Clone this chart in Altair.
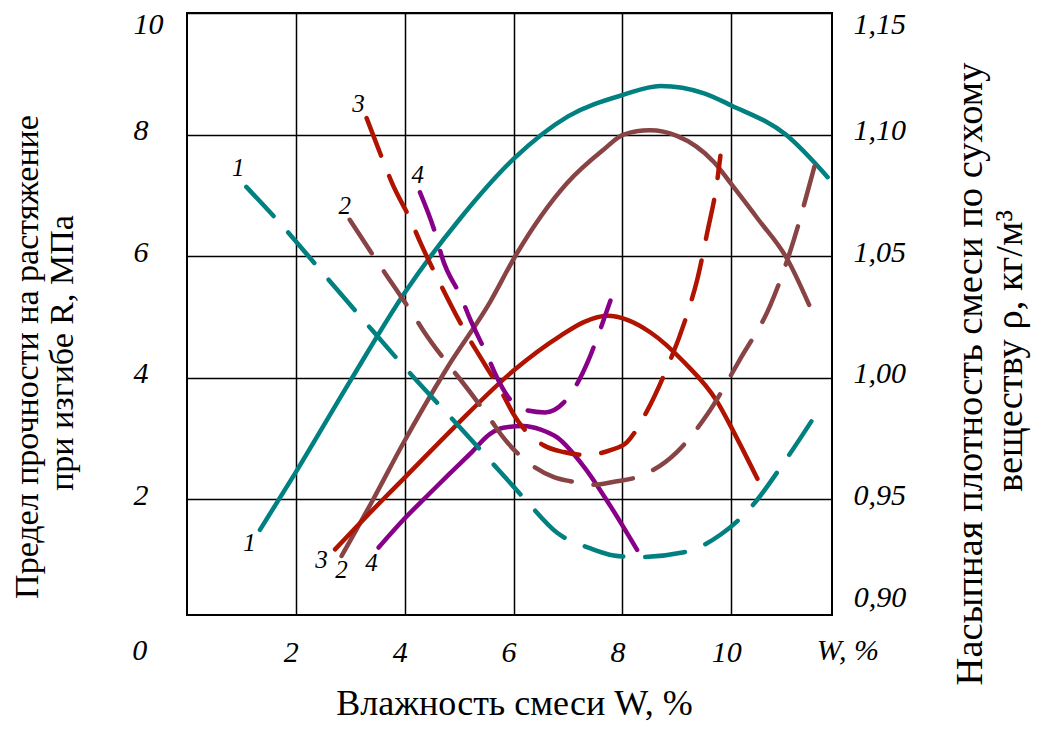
import altair as alt
import pandas as pd

FONT = "Liberation Serif"
CURVES = ["1", "2", "3", "4"]
COLORS = ["#008080", "#884444", "#B01400", "#880088"]

# Solid curves: strength R, MPa (left axis)
W1 = [1.34, 2.0, 3.0, 4.0, 5.0, 6.0, 7.0, 8.0, 8.7, 9.5, 10.0, 11.0, 11.77]
R1 = [1.5, 2.45, 3.95, 5.4, 6.6, 7.6, 8.3, 8.65, 8.8, 8.68, 8.48, 8.0, 7.3]
W2 = [2.84, 3.42, 3.97, 4.77, 5.57, 6.03, 6.98, 7.65, 8.02, 8.5, 9.0, 9.68, 10.04, 10.5, 11.03, 11.43]
R2 = [1.07, 2.0, 2.92, 4.15, 5.25, 6.0, 7.2, 7.75, 8.0, 8.07, 7.98, 7.55, 7.14, 6.6, 5.95, 5.2]
W3 = [2.72, 3.6, 4.0, 4.89, 6.0, 6.86, 7.3, 7.72, 8.1, 8.51, 9.13, 9.74, 10.05, 10.48]
R3 = [1.18, 2.0, 2.36, 3.17, 4.12, 4.69, 4.92, 5.02, 4.95, 4.75, 4.26, 3.61, 3.1, 2.34]
W4 = [3.52, 3.98, 4.47, 4.83, 5.2, 5.57, 5.81, 6.18, 6.5, 6.8, 7.29, 7.78, 8.27]
R4 = [1.21, 1.67, 2.11, 2.43, 2.75, 3.08, 3.18, 3.21, 3.15, 3.02, 2.54, 1.89, 1.17]

# Dashed curves: bulk density rho (right axis)
WD1 = [1.09, 1.7, 2.5, 3.27, 4.06, 5.0, 5.97, 6.24, 6.8, 7.4, 7.84, 8.27, 9.13, 9.8, 10.35, 11.0, 11.52]
RHO1 = [1.0785, 1.0638, 1.043, 1.023, 1.0028, 0.98, 0.956, 0.9493, 0.9363, 0.93, 0.927, 0.9263, 0.9283, 0.9355, 0.9465, 0.9663, 0.9838]
WD2 = [2.99, 3.48, 3.67, 4.16, 4.34, 4.86, 5.05, 5.57, 5.81, 6.73, 7.04, 7.47, 7.9, 8.21, 9.0, 9.56, 10.17, 10.72, 11.15, 11.49, 11.58]
RHO2 = [1.065, 1.0483, 1.042, 1.0258, 1.0195, 1.0038, 0.9985, 0.983, 0.9755, 0.9593, 0.9575, 0.956, 0.9575, 0.9588, 0.9695, 0.985, 1.008, 1.03, 1.0568, 1.0838, 1.0913]
WD3 = [3.3, 3.61, 3.76, 4.13, 4.28, 4.65, 5.2, 5.39, 5.82, 6.0, 6.55, 6.92, 7.35, 7.78, 8.08, 8.45, 8.79, 9.19, 9.37, 9.56, 9.74, 9.8]
RHO3 = [1.1068, 1.0888, 1.0805, 1.0638, 1.056, 1.0388, 1.0155, 1.0085, 0.9925, 0.985, 0.9723, 0.9695, 0.9683, 0.9703, 0.9735, 0.9863, 1.0025, 1.0263, 1.04, 1.06, 1.0808, 1.0913]
WD4 = [4.28, 4.59, 4.68, 5.05, 5.17, 5.54, 5.66, 5.94, 6.18, 6.58, 6.92, 7.38, 7.5, 7.78]
RHO4 = [1.0763, 1.0573, 1.05, 1.0325, 1.0258, 1.008, 1.0018, 0.991, 0.987, 0.9858, 0.9898, 1.0075, 1.0143, 1.0318]

# Curve number labels
LAB_TEXT = ["1", "2", "3", "4", "1", "3", "2", "4"]
LAB_W = [0.94, 2.9, 3.15, 4.24, 1.15, 2.47, 2.84, 3.39]
LAB_R = [7.45, 6.83, 8.5, 7.34, 1.29, 1.0, 0.84, 0.95]

# Tick values
X_TICKS = [2, 4, 6, 8, 10]
R_TICKS = [2, 4, 6, 8, 10]
RHO_TICKS = [0.95, 1.0, 1.05, 1.1, 1.15]

# Titles
X_TITLE = "Влажность смеси W, %"
LEFT_TITLE = ["Предел прочности на растяжение", "при изгибе R, МПа"]
RIGHT_TITLE = ["Насыпная плотность смеси по сухому", "веществу ρ, кг/м³"]

# Corner annotations
CORNER_TEXT = ["0", "W, %"]
CORNER_W = [-0.87, 12.14]
CORNER_R = [-0.49, -0.49]
LOW_RHO_TEXT = ["0,90"]
LOW_RHO_W = [12.25]
LOW_RHO_V = [0.9093]


def frame(curve, ws, vs, col):
    return pd.DataFrame({"curve": curve, "W": ws, col: vs, "i": list(range(len(ws)))})


solid = pd.concat([frame(c, w, r, "R") for c, w, r in
                   zip(CURVES, [W1, W2, W3, W4], [R1, R2, R3, R4])])
dashed = pd.concat([frame(c, w, r, "rho") for c, w, r in
                    zip(CURVES, [WD1, WD2, WD3, WD4], [RHO1, RHO2, RHO3, RHO4])])
labels = pd.DataFrame({"t": LAB_TEXT, "W": LAB_W, "R": LAB_R})
corner = pd.DataFrame({"t": CORNER_TEXT, "W": CORNER_W, "R": CORNER_R})
low_rho = pd.DataFrame({"t": LOW_RHO_TEXT, "W": LOW_RHO_W, "rho": LOW_RHO_V})

color = alt.Color("curve:N", scale=alt.Scale(domain=CURVES, range=COLORS), legend=None)
xs = alt.Scale(domain=[0, 11.85], nice=False, zero=False)
yl = alt.Scale(domain=[0.1, 10], nice=False, zero=False)
yr = alt.Scale(domain=[0.9025, 1.15], nice=False, zero=False)

x_axis = alt.Axis(
    values=X_TICKS, format="d", grid=True, gridColor="#000000", gridWidth=1.5, gridOpacity=1,
    domain=False, ticks=False, tickSize=0,
    labelFont=FONT, labelFontStyle="italic", labelFontSize=30, labelColor="#000000",
    labelPadding=22, labelOffset=-5, labelBaseline="top", labelFlush=False,
    title=X_TITLE, titleFont=FONT, titleFontSize=36,
    titleFontWeight="normal", titleColor="#000000",
    titleX=327, titleY=99, titleAlign="center", titleBaseline="alphabetic",
)

yl_axis = alt.Axis(
    values=R_TICKS, format="d", grid=True, gridColor="#000000", gridWidth=1.5, gridOpacity=1,
    domain=False, ticks=False, tickSize=0,
    labelFont=FONT, labelFontStyle="italic", labelFontSize=30, labelColor="#000000",
    labelAlign="left", labelPadding=54, labelOffset=-4, labelFlush=True,
    title=None,
)

yr_axis = alt.Axis(
    orient="right", values=RHO_TICKS, grid=False, domain=False, ticks=False, tickSize=0,
    labelExpr="replace(format(datum.value, '.2f'), '.', ',')",
    labelFont=FONT, labelFontStyle="italic", labelFontSize=30, labelColor="#000000",
    labelAlign="left", labelPadding=21, labelOffset=-4, labelFlush=True,
    title=None,
)

solid_lines = alt.Chart(solid).mark_line(
    strokeWidth=4.5, interpolate="monotone", strokeCap="round"
).encode(
    x=alt.X("W:Q", scale=xs, axis=x_axis),
    y=alt.Y("R:Q", scale=yl, axis=yl_axis),
    color=color,
    order=alt.Order("i:Q"),
)

label_marks = alt.Chart(labels).mark_text(
    font=FONT, fontStyle="italic", fontSize=25, color="#000000", baseline="middle"
).encode(
    x=alt.X("W:Q", scale=xs),
    y=alt.Y("R:Q", scale=yl, title=None),
    text="t:N",
)

corner_marks = alt.Chart(corner).mark_text(
    font=FONT, fontStyle="italic", fontSize=30, color="#000000", baseline="middle"
).encode(
    x=alt.X("W:Q", scale=xs),
    y=alt.Y("R:Q", scale=yl, title=None),
    text="t:N",
)


def title_line(text, px, py, size):
    return alt.Chart(pd.DataFrame({"t": [text]})).mark_text(
        font=FONT, fontSize=size, color="#000000", angle=270,
        align="center", baseline="alphabetic",
    ).encode(x=alt.value(px), y=alt.value(py), text="t:N")


left_title = [
    title_line(LEFT_TITLE[0], -149, 344, 34),
    title_line(LEFT_TITLE[1], -114, 340, 34),
]
right_title = [
    title_line(RIGHT_TITLE[0], 795, 361, 38.5),
    title_line(RIGHT_TITLE[1], 835, 338, 38.5),
]

left = alt.layer(solid_lines, label_marks, corner_marks, *left_title, *right_title)

dashed_lines = alt.Chart(dashed).mark_line(
    strokeWidth=4.5, interpolate="monotone", strokeCap="round", strokeDash=[40, 22]
).encode(
    x=alt.X("W:Q", scale=xs),
    y=alt.Y("rho:Q", scale=yr, axis=yr_axis),
    color=color,
    order=alt.Order("i:Q"),
)

low_rho_mark = alt.Chart(low_rho).mark_text(
    font=FONT, fontStyle="italic", fontSize=30, color="#000000",
    baseline="middle", align="left"
).encode(
    x=alt.X("W:Q", scale=xs),
    y=alt.Y("rho:Q", scale=yr, title=None),
    text="t:N",
)

right = alt.layer(dashed_lines, low_rho_mark)

chart = alt.layer(left, right).resolve_scale(y="independent").properties(
    width=645, height=602,
    autosize=alt.AutoSizeParams(type="none"),
    padding={"left": 179, "top": 5, "right": 200, "bottom": 108},
).configure_view(
    stroke="#000000", strokeWidth=2
).configure_axis(
    labelFont=FONT, titleFont=FONT, titleFontWeight="normal"
)

chart.save("out.html", embed_options={"renderer": "svg", "actions": False})
